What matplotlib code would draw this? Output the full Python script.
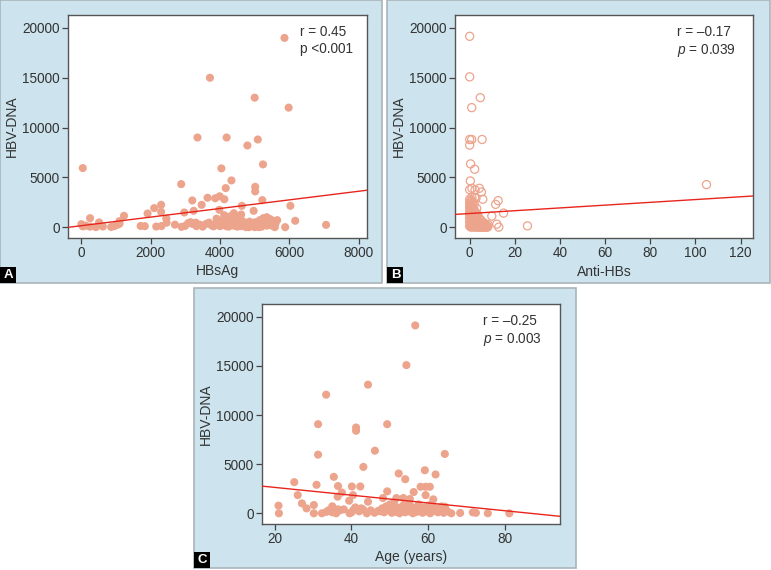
import numpy as np
import matplotlib
matplotlib.use("Agg")
import matplotlib.pyplot as plt
from matplotlib.patches import Rectangle

plt.rcParams['font.family'] = ['Liberation Sans', 'DejaVu Sans']
plt.rcParams['mathtext.fontset'] = 'custom'
plt.rcParams['mathtext.rm'] = 'Liberation Sans'
plt.rcParams['mathtext.it'] = 'Liberation Sans:italic'

##########################################
# data
##########################################
# panel A : HBsAg vs HBV-DNA
hbsag = [5860, 3710, 5000, 5980, 3350, 4190, 5090, 4790, 5240, 40, 4040, 2880,
         4330, 5015, 5015, 4165, 3640, 3860, 3990, 4125, 3200, 3470, 2300, 2100,
         1910, 2300, 2970, 3240, 3980, 4630, 6030, 4970, 5220, 1230, 2450, 6170,
         250, 510, 1100, 7060, 5880, 4610,
         0, 40, 130, 250, 420, 620, 860, 950, 1050, 1100, 1710, 1830, 2160, 2310,
         2460, 2700, 2890, 2990, 3080, 3210, 3320, 3420, 3600, 3810, 3900, 3950,
         4000, 4050, 4100, 4150, 4200, 4250, 4300, 4350, 4400, 4450, 4500, 4550,
         4600, 4700, 4750, 4800, 4850, 4900, 4950, 5000, 5050, 5100, 5150, 5200,
         5250, 5300, 5350, 5400, 5450, 5500, 5550, 5600, 5650, 5350, 4400, 4300,
         3900, 3750, 4650, 5150, 5450, 3500,
         4080, 4180, 4270, 4380, 4520, 4680, 4830, 4980, 5120, 5280, 5420, 5580,
         3150, 3300, 3680, 4120, 4480, 5320]
dna_a = [19000, 15000, 13000, 12000, 9000, 9000, 8800, 8200, 6300, 5930, 5900, 4320,
         4690, 4050, 3590, 3920, 2950, 2900, 3100, 2800, 2680, 2240, 2240, 1910,
         1370, 1540, 1470, 1640, 1740, 2140, 2140, 1640, 2710, 1140, 870, 640,
         900, 470, 600, 230, 0, 1270,
         300, 80, 150, 50, 0, 60, 20, 100, 250, 350, 120, 100, 60, 110,
         450, 250, 30, 120, 400, 320, 100, 250, 330, 80, 500, 700,
         100, 300, 600, 900, 200, 50, 400, 700, 150, 1000, 50, 300,
         100, 450, 0, 250, 550, 100, 350, 0, 500, 200, 700, 50,
         900, 300, 1000, 500, 800, 150, 600, 350, 700, 150, 1400, 1100,
         850, 200, 600, 450, 250, 50,
         400, 100, 800, 300, 650, 200, 0, 450, 0, 600, 300, 0,
         500, 450, 450, 1200, 800, 800]

# panel B : Anti-HBs vs HBV-DNA
antihbs = [0, 0, 4.7, 0.9, 0, 0.9, 0, 5.5, 0.4, 2.2, 0.3, 0, 1.0, 4.3, 5.2,
           2.4, 2.8, 2.2, 5.8, 3.1, 12.6, 11.5, 15, 9.8, 12, 12.9, 25.6, 104.9,
           0, 0.3, 0, 0.5, 0, 1, 0.2, 1.5, 0, 0.8, 2, 0.3, 1.2, 2.5, 0, 1.8, 3,
           0.5, 2.2, 3.5, 4.5, 0, 1, 2.8, 4, 5.5, 6.5, 0.4, 1.6, 3.2, 4.8, 6,
           7.5, 0, 1.2, 2.5, 3.8, 5.2, 6.8, 8, 0.6, 2, 3.4, 4.6, 5.8, 7, 1.4,
           0.9, 1, 2, 0.2, 1.1, 2.3, 3.6, 4.2, 5, 6.2, 7.2, 0.7, 1.9, 3, 0, 1.5,
           0.5, 1.3, 2.1, 0.2, 1.7, 2.6, 3.3, 0.4, 1.0, 2.0, 2.9, 3.9, 4.7, 0.6,
           1.4, 2.4, 3.5, 4.4, 5.4, 6.3, 7.4, 0.3, 1.1, 3.0, 5.0, 6.6, 7.8, 8.2]
dna_b = [19160, 15090, 13000, 12000, 8800, 8800, 8240, 8800, 6350, 5815, 4640,
         3760, 3900, 3900, 3530, 3730, 2900, 3000, 2800, 1880, 2660, 2290, 1410,
         1110, 300, 0, 130, 4270,
         2800, 2600, 2400, 2200, 2000, 1900, 1700, 1600, 1500, 1400, 1300, 1200,
         1100, 1000, 900, 850, 800, 700, 650, 600, 550, 500, 450, 420, 380, 350,
         300, 250, 220, 200, 180, 150, 120, 100, 80, 60, 40, 30, 20, 50, 0, 0,
         0, 0, 0, 0, 2500, 2700, 3000, 2300, 2100, 1800, 1500, 1200, 900, 700,
         450, 250, 600, 1100, 1400, 1300, 400,
         2300, 2000, 1700, 1850, 1350, 1150, 950, 1000, 800, 750, 650, 500, 400,
         300, 350, 300, 250, 200, 150, 100, 80, 150, 100, 50, 40, 30, 0, 250]

# panel C : age vs HBV-DNA
age = [56.6, 54.3, 44.3, 33.4, 31.3, 49.3, 41.2, 41.2, 46.1, 31.3, 64.3, 43.1,
       59.1, 52.3, 61.9, 35.4, 54.0, 25.1, 30.9, 36.5, 40.1, 42.3, 58.0, 59.3,
       60.4, 49.3, 37.5, 56.2, 59.3, 26.0, 40.4, 36.4, 48.2, 51.7, 53.5, 55.2,
       61.3, 39.4, 44.3, 27.1, 21.0, 30.2, 35.0, 64.3, 28.3, 60.4, 21.1, 30.2,
       32.3, 68.3, 71.6, 72.4, 75.5, 81.1,
       38, 40, 41, 42, 43, 44, 45, 46, 47, 48, 48.5, 49, 49.5, 50, 50.5, 51,
       51.5, 52, 52.5, 53, 53.5, 54, 54.5, 55, 55.5, 56, 56.5, 57, 57.5, 58,
       58.5, 59, 59.5, 60, 60.5, 61, 61.5, 62, 62.5, 63, 63.5, 64, 64.5, 65,
       66, 34, 35, 36, 36.5, 37, 33.5, 40.5, 39.5, 42.5, 47.5, 51, 55, 57]
dna_c = [19120, 15080, 13090, 12070, 9070, 9070, 8730, 8400, 6370, 5970, 6040,
         4720, 4380, 4050, 3950, 3710, 3470, 3170, 2900, 2770, 2730, 2730, 2700,
         2700, 2700, 2230, 2120, 2160, 1850, 1850, 1850, 1690, 1550, 1550, 1550,
         1450, 1420, 1280, 1180, 1010, 780, 840, 710, 670, 500, 840, 0, 0,
         0, 30, 100, 50, 0, 0,
         400, 100, 600, 200, 400, 0, 300, 50, 250, 500, 100, 700, 300, 900, 50,
         400, 150, 600, 0, 350, 800, 100, 500, 200, 700, 0, 400, 150, 900, 300,
         50, 600, 200, 400, 0, 800, 250, 500, 100, 350, 700, 50, 400, 200,
         0, 300, 100, 0, 400, 300, 150, 350, 0, 500, 200, 1100, 1000, 600]

# fitted lines (intercept, slope) as drawn in the figure
fit_a = (146, 0.432)
fit_b = (1370, 14.0)
fit_c = (3427, -39.6)

stats_a = ("r = 0.45", "p <0.001")
stats_b = ("r = \u20130.17", "$\\mathit{p}$ = 0.039")
stats_c = ("r = \u20130.25", "$\\mathit{p}$ = 0.003")

##########################################
# style
##########################################
W, H = 771, 570
panel_bg = '#cde4ee'
dot_col = '#eda48d'
line_col = '#e8251c'
txt_col = '#333333'

fig = plt.figure(figsize=(W/100, H/100), dpi=100)

def frac(x0, y0, x1, y1):
    # pixel box (top-left origin) to figure fraction rect
    return [x0/W, 1 - y1/H, (x1 - x0)/W, (y1 - y0)/H]

def panel(x0, y0, x1, y1, letter):
    fig.add_artist(Rectangle((x0/W, 1 - y1/H), (x1 - x0)/W, (y1 - y0)/H,
                             transform=fig.transFigure, facecolor=panel_bg,
                             edgecolor='#a9b4b9', linewidth=1.2, zorder=0))
    fig.add_artist(Rectangle((x0/W, 1 - y1/H), 16/W, 16/H,
                             transform=fig.transFigure, facecolor='black',
                             edgecolor='none', zorder=1))
    fig.text((x0 + 8.5)/W, 1 - (y1 - 8)/H, letter, color='white',
             fontsize=9.5, fontweight='bold', ha='center', va='center')

def scatter_panel(rect, x, y, fit, xlim, xticks, xlabel, stats, hollow=False, stx=0.77):
    ax = fig.add_axes(rect)
    ax.set_facecolor('white')
    if hollow:
        ax.scatter(x, y, s=34, facecolors='none', edgecolors=dot_col,
                   linewidths=0.9, zorder=2)
    else:
        ax.scatter(x, y, s=34, color=dot_col, edgecolors='none', zorder=2)
    b0, b1 = fit
    xx = np.array(xlim)
    ax.plot(xx, b0 + b1*xx, color=line_col, lw=1.0, zorder=3)
    ax.set_xlim(xlim)
    ax.set_ylim(-1090, 21300)
    ax.set_xticks(xticks)
    ax.set_yticks([0, 5000, 10000, 15000, 20000])
    ax.tick_params(colors='#444444', labelcolor=txt_col, labelsize=9.8,
                   length=4, width=0.9, pad=2)
    for sp in ax.spines.values():
        sp.set_color('#555555')
        sp.set_linewidth(1.0)
    ax.set_xlabel(xlabel, fontsize=10, color=txt_col, labelpad=3)
    ax.set_ylabel('HBV-DNA', fontsize=10, color=txt_col, labelpad=2)
    ax.text(stx, 0.955, stats[0] + '\n' + stats[1], transform=ax.transAxes,
            ha='left', va='top', fontsize=9.8, color=txt_col, linespacing=1.25)
    return ax

panel(0, 0, 382, 283, 'A')
panel(387, 0, 770, 283, 'B')
panel(194, 288, 576, 568, 'C')

scatter_panel(frac(68, 15, 367, 238), hbsag, dna_a, fit_a, (-386, 8241),
              [0, 2000, 4000, 6000, 8000], 'HBsAg', stats_a, stx=0.775)
scatter_panel(frac(455, 15, 753, 238), antihbs, dna_b, fit_b, (-6.5, 125.5),
              [0, 20, 40, 60, 80, 100, 120], 'Anti-HBs', stats_b, hollow=True,
              stx=0.745)
scatter_panel(frac(262, 304, 560, 524), age, dna_c, fit_c, (16.7, 94.3),
              [20, 40, 60, 80], 'Age (years)', stats_c, stx=0.742)

fig.savefig('out.png', dpi=100)
